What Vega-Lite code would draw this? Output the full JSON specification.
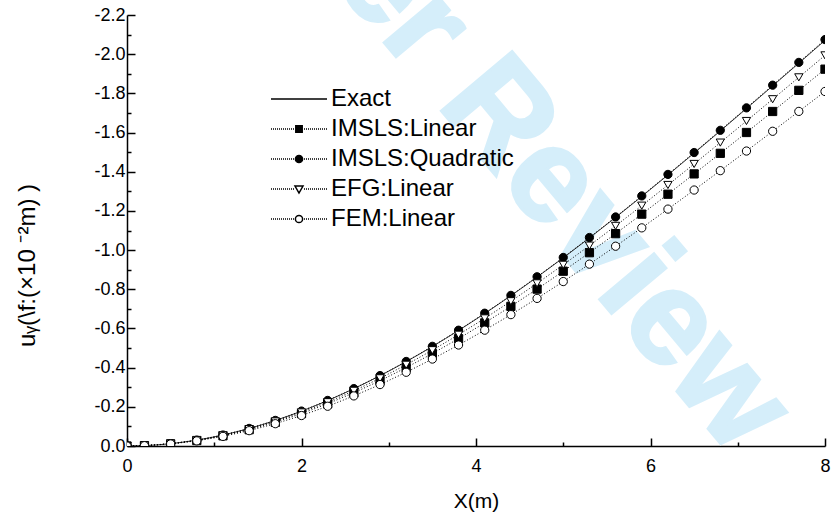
{
  "$schema": "https://vega.github.io/schema/vega-lite/v6.json",
  "width": 698,
  "height": 431,
  "autosize": {"type": "none"},
  "padding": {"left": 127, "top": 15, "right": 8, "bottom": 72},
  "background": "white",
  "config": {"view": {"stroke": null}, "font": "Liberation Sans"},
  "datasets": {
    "sol": [
      {"x": 0, "Exact": 0, "IMSLS:Linear": 0, "IMSLS:Quadratic": 0, "EFG:Linear": 0, "FEM:Linear": 0},
      {"x": 0.2, "Exact": -0.0019, "IMSLS:Linear": -0.0018, "IMSLS:Quadratic": -0.0019, "EFG:Linear": -0.0019, "FEM:Linear": -0.0017},
      {"x": 0.5, "Exact": -0.0119, "IMSLS:Linear": -0.0110, "IMSLS:Quadratic": -0.0119, "EFG:Linear": -0.0114, "FEM:Linear": -0.0104},
      {"x": 0.8, "Exact": -0.0300, "IMSLS:Linear": -0.0279, "IMSLS:Quadratic": -0.0301, "EFG:Linear": -0.0289, "FEM:Linear": -0.0262},
      {"x": 1.1, "Exact": -0.0560, "IMSLS:Linear": -0.0520, "IMSLS:Quadratic": -0.0561, "EFG:Linear": -0.0540, "FEM:Linear": -0.0490},
      {"x": 1.4, "Exact": -0.0896, "IMSLS:Linear": -0.0832, "IMSLS:Quadratic": -0.0897, "EFG:Linear": -0.0863, "FEM:Linear": -0.0783},
      {"x": 1.7, "Exact": -0.1303, "IMSLS:Linear": -0.1211, "IMSLS:Quadratic": -0.1306, "EFG:Linear": -0.1255, "FEM:Linear": -0.1139},
      {"x": 2.0, "Exact": -0.1779, "IMSLS:Linear": -0.1653, "IMSLS:Quadratic": -0.1783, "EFG:Linear": -0.1714, "FEM:Linear": -0.1555},
      {"x": 2.3, "Exact": -0.2321, "IMSLS:Linear": -0.2156, "IMSLS:Quadratic": -0.2326, "EFG:Linear": -0.2235, "FEM:Linear": -0.2029},
      {"x": 2.6, "Exact": -0.2925, "IMSLS:Linear": -0.2717, "IMSLS:Quadratic": -0.2931, "EFG:Linear": -0.2817, "FEM:Linear": -0.2557},
      {"x": 2.9, "Exact": -0.3588, "IMSLS:Linear": -0.3333, "IMSLS:Quadratic": -0.3595, "EFG:Linear": -0.3455, "FEM:Linear": -0.3136},
      {"x": 3.2, "Exact": -0.4307, "IMSLS:Linear": -0.4001, "IMSLS:Quadratic": -0.4315, "EFG:Linear": -0.4147, "FEM:Linear": -0.3764},
      {"x": 3.5, "Exact": -0.5078, "IMSLS:Linear": -0.4717, "IMSLS:Quadratic": -0.5088, "EFG:Linear": -0.4890, "FEM:Linear": -0.4438},
      {"x": 3.8, "Exact": -0.5898, "IMSLS:Linear": -0.5479, "IMSLS:Quadratic": -0.5910, "EFG:Linear": -0.5680, "FEM:Linear": -0.5155},
      {"x": 4.1, "Exact": -0.6764, "IMSLS:Linear": -0.6284, "IMSLS:Quadratic": -0.6778, "EFG:Linear": -0.6514, "FEM:Linear": -0.5912},
      {"x": 4.4, "Exact": -0.7673, "IMSLS:Linear": -0.7128, "IMSLS:Quadratic": -0.7688, "EFG:Linear": -0.7389, "FEM:Linear": -0.6706},
      {"x": 4.7, "Exact": -0.8621, "IMSLS:Linear": -0.8009, "IMSLS:Quadratic": -0.8638, "EFG:Linear": -0.8302, "FEM:Linear": -0.7534},
      {"x": 5.0, "Exact": -0.9605, "IMSLS:Linear": -0.8923, "IMSLS:Quadratic": -0.9624, "EFG:Linear": -0.9249, "FEM:Linear": -0.8394},
      {"x": 5.3, "Exact": -1.0621, "IMSLS:Linear": -0.9867, "IMSLS:Quadratic": -1.0642, "EFG:Linear": -1.0228, "FEM:Linear": -0.9283},
      {"x": 5.6, "Exact": -1.1667, "IMSLS:Linear": -1.0839, "IMSLS:Quadratic": -1.1691, "EFG:Linear": -1.1236, "FEM:Linear": -1.0197},
      {"x": 5.9, "Exact": -1.2740, "IMSLS:Linear": -1.1835, "IMSLS:Quadratic": -1.2765, "EFG:Linear": -1.2268, "FEM:Linear": -1.1135},
      {"x": 6.2, "Exact": -1.3835, "IMSLS:Linear": -1.2853, "IMSLS:Quadratic": -1.3863, "EFG:Linear": -1.3323, "FEM:Linear": -1.2092},
      {"x": 6.5, "Exact": -1.4950, "IMSLS:Linear": -1.3889, "IMSLS:Quadratic": -1.4980, "EFG:Linear": -1.4397, "FEM:Linear": -1.3066},
      {"x": 6.8, "Exact": -1.6082, "IMSLS:Linear": -1.4940, "IMSLS:Quadratic": -1.6114, "EFG:Linear": -1.5487, "FEM:Linear": -1.4055},
      {"x": 7.1, "Exact": -1.7226, "IMSLS:Linear": -1.6003, "IMSLS:Quadratic": -1.7260, "EFG:Linear": -1.6589, "FEM:Linear": -1.5056},
      {"x": 7.4, "Exact": -1.8380, "IMSLS:Linear": -1.7075, "IMSLS:Quadratic": -1.8417, "EFG:Linear": -1.7700, "FEM:Linear": -1.6064},
      {"x": 7.7, "Exact": -1.9541, "IMSLS:Linear": -1.8154, "IMSLS:Quadratic": -1.9580, "EFG:Linear": -1.8818, "FEM:Linear": -1.7079},
      {"x": 8.0, "Exact": -2.0705, "IMSLS:Linear": -1.9235, "IMSLS:Quadratic": -2.0746, "EFG:Linear": -1.9939, "FEM:Linear": -1.8096}
    ],
    "wm": [{"t": "For Peer Review", "px": 3.45, "py": -2.11}]
  },
  "encoding": {
    "x": {
      "field": "x", "type": "quantitative",
      "scale": {"domain": [0, 8], "nice": false, "zero": false},
      "axis": {
        "values": [0, 1, 2, 3, 4, 5, 6, 7, 8],
        "format": "d",
        "labelExpr": "datum.value % 2 == 0 ? datum.label : ''",
        "tickSize": {"condition": {"test": "datum.value % 2 == 0", "value": -8}, "value": -4},
        "title": "X(m)",
        "grid": false,
        "domainColor": "black", "domainWidth": 1.5,
        "tickColor": "black", "tickWidth": 1.5,
        "labelFont": "Liberation Sans", "labelFontSize": 18, "labelColor": "black",
        "labelPadding": 19, "labelFlush": false, "labelOverlap": false, "labelBound": false,
        "titleFont": "Liberation Sans", "titleFontSize": 21, "titleFontWeight": "normal", "titleColor": "black",
        "titlePadding": 11
      }
    },
    "y": {
      "field": "u", "type": "quantitative",
      "scale": {"domain": [0, -2.2], "nice": false, "zero": false},
      "axis": {
        "values": [0, -0.1, -0.2, -0.3, -0.4, -0.5, -0.6, -0.7, -0.8, -0.9, -1.0, -1.1, -1.2, -1.3, -1.4, -1.5, -1.6, -1.7, -1.8, -1.9, -2.0, -2.1, -2.2],
        "labelExpr": "abs(round(datum.value * 10)) % 2 == 0 ? replace(format(datum.value, '.1f'), '\u2212', '-') : ''",
        "tickSize": {"condition": {"test": "abs(round(datum.value * 10)) % 2 == 0", "value": -8}, "value": -4},
        "title": "uᵧ(\\f:(×10  ⁻²m) )",
        "grid": false,
        "domainColor": "black", "domainWidth": 1.5,
        "tickColor": "black", "tickWidth": 1.5,
        "labelFont": "Liberation Sans", "labelFontSize": 18, "labelColor": "black",
        "labelPadding": 10, "labelFlush": false, "labelOverlap": false, "labelBound": false,
        "titleFont": "Liberation Sans", "titleFontSize": 24, "titleFontWeight": "normal", "titleColor": "black",
        "titlePadding": 54, "titleY": 250
      }
    }
  },
  "layer": [
    {
      "data": {"name": "wm"},
      "mark": {"type": "text", "angle": 50, "fontSize": 134, "fontWeight": "bold", "font": "Liberation Sans", "color": "#d5eefa", "stroke": "#d5eefa", "strokeWidth": 3, "align": "center", "baseline": "middle"},
      "encoding": {
        "x": {"field": "px", "type": "quantitative"},
        "y": {"field": "py", "type": "quantitative"},
        "text": {"field": "t", "type": "nominal"}
      }
    },
    {
      "data": {"name": "sol"},
      "transform": [
        {"fold": ["Exact", "IMSLS:Linear", "IMSLS:Quadratic", "EFG:Linear", "FEM:Linear"], "as": ["m", "u"]},
        {"filter": "datum.m == 'Exact'"}
      ],
      "mark": {"type": "line", "color": "#333333", "strokeWidth": 1, "interpolate": "monotone", "clip": true}
    },
    {
      "data": {"name": "sol"},
      "transform": [
        {"fold": ["Exact", "IMSLS:Linear", "IMSLS:Quadratic", "EFG:Linear", "FEM:Linear"], "as": ["m", "u"]},
        {"filter": "datum.m != 'Exact'"}
      ],
      "mark": {"type": "line", "color": "black", "strokeWidth": 1, "strokeDash": [1, 2], "clip": true},
      "encoding": {"detail": {"field": "m", "type": "nominal"}}
    },
    {
      "data": {"name": "sol"},
      "transform": [
        {"fold": ["Exact", "IMSLS:Linear", "IMSLS:Quadratic", "EFG:Linear", "FEM:Linear"], "as": ["m", "u"]},
        {"filter": "datum.m != 'Exact'"}
      ],
      "mark": {"type": "point", "filled": true, "stroke": "black", "strokeWidth": 1, "size": 68, "opacity": 1, "clip": true},
      "encoding": {
        "shape": {"field": "m", "type": "nominal", "legend": null,
          "scale": {"domain": ["IMSLS:Linear", "IMSLS:Quadratic", "EFG:Linear", "FEM:Linear"], "range": ["square", "circle", "triangle-down", "circle"]}},
        "fill": {"field": "m", "type": "nominal", "legend": null,
          "scale": {"domain": ["IMSLS:Linear", "IMSLS:Quadratic", "EFG:Linear", "FEM:Linear"], "range": ["black", "black", "white", "white"]}}
      }
    },
    {
      "data": {"name": "sol"},
      "transform": [
        {"fold": ["Exact", "IMSLS:Linear", "IMSLS:Quadratic", "EFG:Linear", "FEM:Linear"], "as": ["m", "u"]},
        {"filter": "datum.x < 0"}
      ],
      "mark": {"type": "point", "filled": true, "stroke": "black", "strokeWidth": 1, "size": 64, "opacity": 1},
      "encoding": {
        "shape": {"field": "m", "type": "nominal",
          "scale": {"domain": ["Exact", "IMSLS:Linear", "IMSLS:Quadratic", "EFG:Linear", "FEM:Linear"],
            "range": [
              "M-7,0H7",
              "M-7,0h0.25M-6.5,0h0.25M-6,0h0.25M-5.5,0h0.25M-5,0h0.25M-4.5,0h0.25M-4,0h0.25M-3.5,0h0.25M-3,0h0.25M-2.5,0h0.25M-2,0h0.25M-1.5,0h0.25M1.25,0h0.25M1.75,0h0.25M2.25,0h0.25M2.75,0h0.25M3.25,0h0.25M3.75,0h0.25M4.25,0h0.25M4.75,0h0.25M5.25,0h0.25M5.75,0h0.25M6.25,0h0.25M6.75,0h0.25M-0.8,-0.8H0.8V0.8H-0.8Z",
              "M-7,0h0.25M-6.5,0h0.25M-6,0h0.25M-5.5,0h0.25M-5,0h0.25M-4.5,0h0.25M-4,0h0.25M-3.5,0h0.25M-3,0h0.25M-2.5,0h0.25M-2,0h0.25M-1.5,0h0.25M1.25,0h0.25M1.75,0h0.25M2.25,0h0.25M2.75,0h0.25M3.25,0h0.25M3.75,0h0.25M4.25,0h0.25M4.75,0h0.25M5.25,0h0.25M5.75,0h0.25M6.25,0h0.25M6.75,0h0.25M0.9,0A0.9,0.9,0,1,1,-0.9,0A0.9,0.9,0,1,1,0.9,0Z",
              "M-7,0h0.25M-6.5,0h0.25M-6,0h0.25M-5.5,0h0.25M-5,0h0.25M-4.5,0h0.25M-4,0h0.25M-3.5,0h0.25M-3,0h0.25M-2.5,0h0.25M-2,0h0.25M-1.5,0h0.25M1.25,0h0.25M1.75,0h0.25M2.25,0h0.25M2.75,0h0.25M3.25,0h0.25M3.75,0h0.25M4.25,0h0.25M4.75,0h0.25M5.25,0h0.25M5.75,0h0.25M6.25,0h0.25M6.75,0h0.25M-1,-0.75H1L0,1Z",
              "M-7,0h0.25M-6.5,0h0.25M-6,0h0.25M-5.5,0h0.25M-5,0h0.25M-4.5,0h0.25M-4,0h0.25M-3.5,0h0.25M-3,0h0.25M-2.5,0h0.25M-2,0h0.25M-1.5,0h0.25M1.25,0h0.25M1.75,0h0.25M2.25,0h0.25M2.75,0h0.25M3.25,0h0.25M3.75,0h0.25M4.25,0h0.25M4.75,0h0.25M5.25,0h0.25M5.75,0h0.25M6.25,0h0.25M6.75,0h0.25M0.9,0A0.9,0.9,0,1,1,-0.9,0A0.9,0.9,0,1,1,0.9,0Z"
            ]},
          "legend": {
            "title": null, "orient": "none", "legendX": 160, "legendY": 72, "padding": 0,
            "symbolSize": 64,
            "labelFont": "Liberation Sans", "labelFontSize": 24, "labelColor": "black", "labelOffset": 20,
            "rowPadding": 6, "labelLimit": 400,
            "encode": {"symbols": {"update": {"stroke": {"value": "black"}, "strokeWidth": {"value": 1}, "opacity": {"value": 1}}}}
          }
        },
        "fill": {"field": "m", "type": "nominal",
          "scale": {"domain": ["Exact", "IMSLS:Linear", "IMSLS:Quadratic", "EFG:Linear", "FEM:Linear"], "range": ["black", "black", "black", "white", "white"]},
          "legend": {
            "title": null, "orient": "none", "legendX": 160, "legendY": 72, "padding": 0,
            "symbolSize": 64,
            "labelFont": "Liberation Sans", "labelFontSize": 24, "labelColor": "black", "labelOffset": 20,
            "rowPadding": 6, "labelLimit": 400,
            "encode": {"symbols": {"update": {"stroke": {"value": "black"}, "strokeWidth": {"value": 1}, "opacity": {"value": 1}}}}
          }
        }
      }
    }
  ],
  "resolve": {"scale": {"shape": "independent", "fill": "independent"}}
}
